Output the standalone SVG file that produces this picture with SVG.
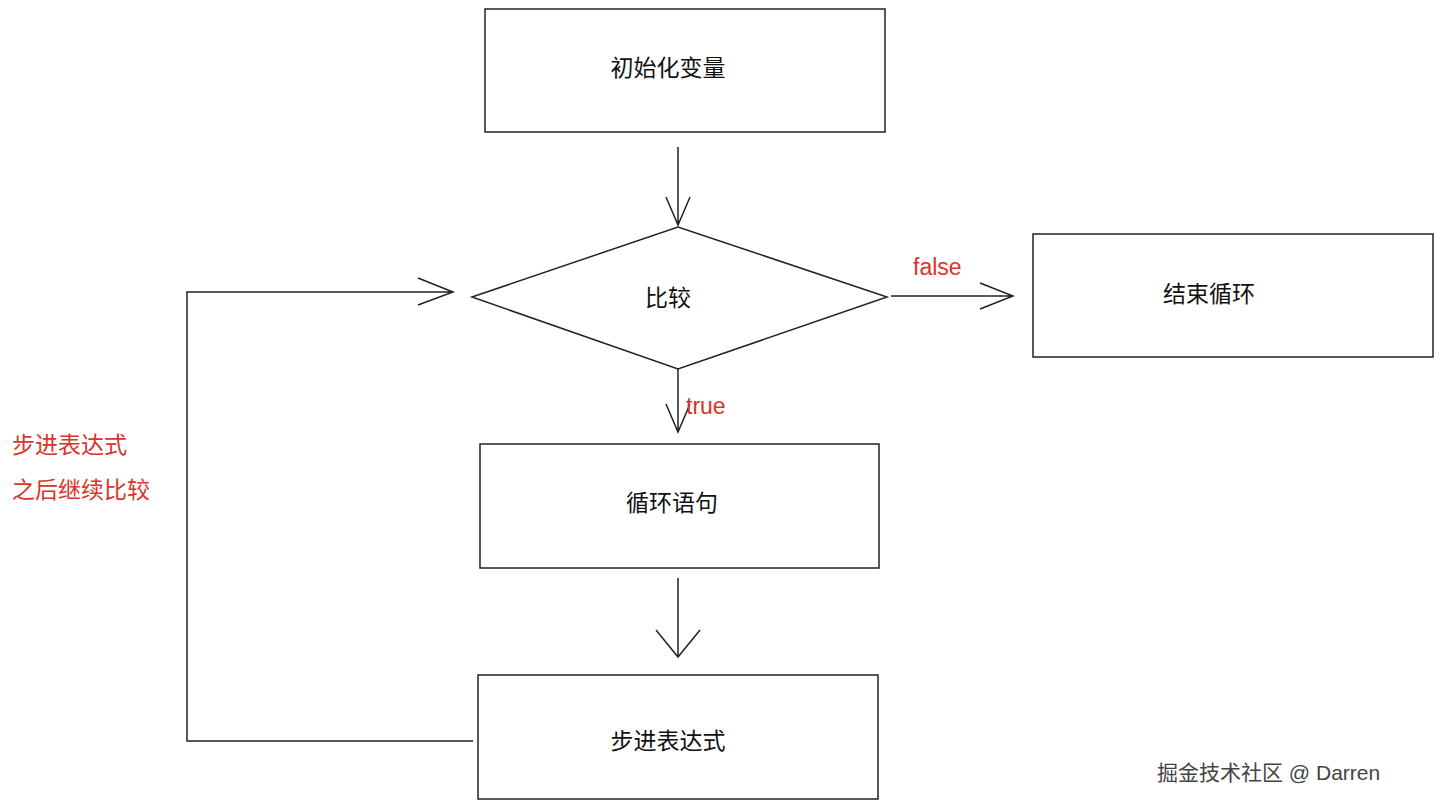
<svg xmlns="http://www.w3.org/2000/svg" width="1445" height="808" viewBox="0 0 1445 808">
<style>
.b{fill:#fff;stroke:#222;stroke-width:1.5}
.l{fill:none;stroke:#222;stroke-width:1.5}
.t{font-family:"Liberation Sans","Noto Sans CJK SC",sans-serif;font-size:23px;fill:#111;text-anchor:middle;dominant-baseline:middle}
.r{font-family:"Liberation Sans","Noto Sans CJK SC",sans-serif;font-size:23px;fill:#d9342b}
</style>
<rect width="1445" height="808" fill="#fff"/>
<g id="connectors">
<path class="l" d="M678,147V225M666,197L678,225L690,197"/>
<path class="l" d="M891,296H1013M980,283L1013,296L980,309"/>
<path class="l" d="M678,369V432M666,404L678,432L690,404"/>
<path class="l" d="M678,578V657M656,630L678,657L700,630"/>
<path class="l" d="M473,741H187V292H453M418,278L453,292L418,305"/>
</g>
<g id="n1"><rect class="b" x="485" y="9" width="400" height="123"/><text class="t" x="668" y="70">初始化变量</text></g>
<g id="n2"><polygon class="b" points="472,297 678,227 887,297 678,369"/><text class="t" x="668" y="300">比较</text></g>
<g id="n3"><rect class="b" x="1033" y="234" width="400" height="123"/><text class="t" x="1209" y="296">结束循环</text></g>
<g id="n4"><rect class="b" x="480" y="444" width="399" height="124"/><text class="t" x="672" y="505">循环语句</text></g>
<g id="n5"><rect class="b" x="478" y="675" width="400" height="124"/><text class="t" x="668" y="743">步进表达式</text></g>
<text class="r" x="913" y="275">false</text>
<text class="r" x="686" y="414">true</text>
<text class="r" x="12" y="453">步进表达式</text>
<text class="r" x="12" y="498">之后继续比较</text>
<text x="1157" y="780" style="font-family:'Liberation Sans','Noto Sans CJK SC',sans-serif;font-size:21px;fill:#444">掘金技术社区 @ Darren</text>
</svg>
